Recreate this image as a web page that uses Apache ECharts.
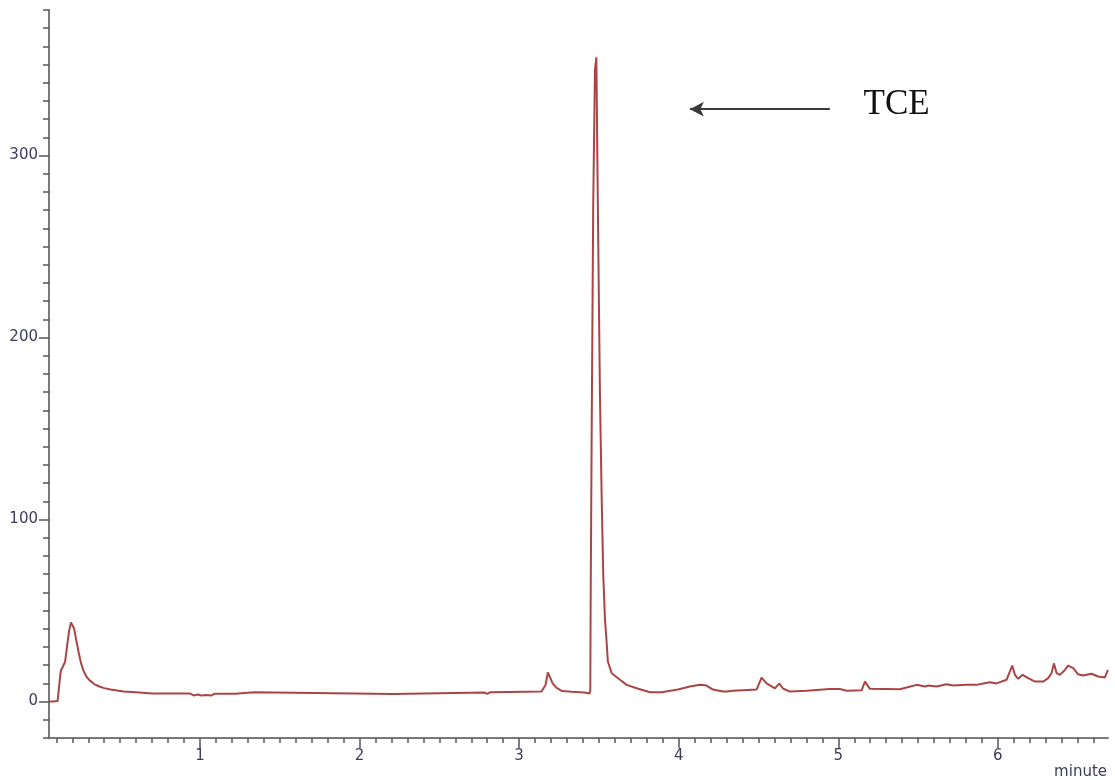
<!DOCTYPE html>
<html>
<head>
<meta charset="utf-8">
<script src="https://cdn.jsdelivr.net/npm/echarts@6/dist/echarts.min.js"></script>
<style>
html,body{margin:0;padding:0;background:#fff;}
#chart{width:1115px;height:780px;}
</style>
</head>
<body>
<div id="chart"></div>
<script>
// ---- data ----
const time = [
  0.054, 0.08, 0.108, 0.118, 0.128, 0.14, 0.155, 0.165, 0.18, 0.192, 0.202, 0.212, 0.222, 0.24, 0.255, 0.27,
  0.29, 0.31, 0.34, 0.37, 0.40, 0.44, 0.52, 0.60, 0.70, 0.80, 0.94, 0.96, 0.99, 1.01, 1.04, 1.07, 1.09,
  1.22, 1.23, 1.34, 1.35, 2.21, 2.22, 2.78, 2.80, 2.82, 3.14, 3.165, 3.18, 3.195, 3.21, 3.235, 3.27, 3.33,
  3.41, 3.44, 3.446, 3.448, 3.454, 3.464, 3.475, 3.484, 3.49, 3.496, 3.506, 3.517, 3.527, 3.538, 3.548,
  3.556, 3.58, 3.632, 3.674, 3.736, 3.82, 3.893, 3.995, 4.07, 4.133, 4.175, 4.214, 4.277, 4.30, 4.34,
  4.488, 4.519, 4.551, 4.603, 4.63, 4.653, 4.697, 4.801, 4.947, 5.01, 5.052, 5.146, 5.167, 5.198, 5.386,
  5.428, 5.491, 5.543, 5.561, 5.616, 5.678, 5.72, 5.804, 5.867, 5.908, 5.95, 5.992, 6.054, 6.09, 6.107,
  6.127, 6.155, 6.19, 6.232, 6.284, 6.315, 6.336, 6.351, 6.368, 6.388, 6.42, 6.44, 6.472, 6.503, 6.534,
  6.587, 6.628, 6.67, 6.69
];
const signal = [
  0, 0, 0.3, 9, 17, 19, 22, 29, 39, 43.5, 43, 40, 35, 27, 21, 17,
  13.5, 11.5, 9.5, 8.3, 7.4, 6.6, 5.5, 5.1, 4.5, 4.4, 4.4, 3.4, 3.9, 3.3, 3.6, 3.3, 4.3,
  4.3, 5.1, 5.1, 4.2, 4.2, 4.9, 5.0, 4.2, 5.2, 5.5, 9, 16, 13, 10, 7.5, 5.8, 5.4,
  5.0, 4.4, 6, 51, 140, 271, 347, 354, 300, 250, 171, 113, 70, 45, 33,
  22, 15.6, 12, 9.2, 7.3, 5.1, 5.1, 6.6, 8.3, 9.2, 8.8, 6.6, 5.5, 5.5, 6.0,
  6.6, 13.2, 10, 7.3, 9.9, 7.2, 5.5, 5.9, 6.9, 6.9, 6.0, 6.2, 11, 7.0, 6.8,
  7.7, 9.2, 8.3, 8.8, 8.3, 9.5, 8.8, 9.2, 9.2, 10, 10.6, 10, 12, 19.8, 14.7,
  12.5, 14.7, 12.9, 11, 11, 12.9, 15.6, 21, 15.6, 14.7, 17.4, 19.8, 18.4, 15, 14.3,
  15.3, 13.8, 13.2, 17.4
];
const xMajorTicks = [1, 2, 3, 4, 5, 6];
const xMinorTicks = [0.1,0.2,0.3,0.4,0.5,0.6,0.7,0.8,0.9,1.0,1.1,1.2,1.3,1.4,1.5,1.6,1.7,1.8,1.9,2.0,
  2.1,2.2,2.3,2.4,2.5,2.6,2.7,2.8,2.9,3.0,3.1,3.2,3.3,3.4,3.5,3.6,3.7,3.8,3.9,4.0,4.1,4.2,4.3,4.4,4.5,
  4.6,4.7,4.8,4.9,5.0,5.1,5.2,5.3,5.4,5.5,5.6,5.7,5.8,5.9,6.0,6.1,6.2,6.3,6.4,6.5,6.6];
const yMajorTicks = [0, 100, 200, 300];
const yMinorTicks = [-20,-10,0,10,20,30,40,50,60,70,80,90,100,110,120,130,140,150,160,170,180,190,200,
  210,220,230,240,250,260,270,280,290,300,310,320,330,340,350,360,370,380];
const peakLabel = 'TCE';
const arrowFrom = [4.947, 325.5];
const arrowTo = [4.07, 325.5];
const labelAt = [5.155, 328];
const xName = 'minute';

// ---- chart ----
const X_MIN = 0.054, X_MAX = 6.69, Y_MIN = -20, Y_MAX = 380;
const axisColor = '#7a7a7a';
const tickColor = '#555555';
const labelColor = '#3d3d5c';
const labelFont = {fontFamily: 'DejaVu Sans', fontSize: 15, color: labelColor};

const chart = echarts.init(document.getElementById('chart'), null, {renderer: 'canvas'});
chart.setOption({
  animation: false,
  backgroundColor: '#ffffff',
  grid: {left: 49, right: 7, top: 10, bottom: 42, outerBoundsMode: 'none'},
  xAxis: [
    {
      type: 'value', min: X_MIN, max: X_MAX,
      axisLine: {show: true, onZero: false, lineStyle: {color: axisColor, width: 2}},
      axisTick: {show: true, customValues: xMinorTicks, length: 5, lineStyle: {color: tickColor, width: 1.5}},
      axisLabel: {show: false},
      splitLine: {show: false}
    },
    {
      type: 'value', min: X_MIN, max: X_MAX, position: 'bottom',
      axisLine: {show: false, onZero: false},
      axisTick: {show: true, customValues: xMajorTicks, length: 10, lineStyle: {color: tickColor, width: 1.5}},
      axisLabel: Object.assign({show: true, customValues: xMajorTicks, margin: 11}, labelFont),
      splitLine: {show: false}
    }
  ],
  yAxis: [
    {
      type: 'value', min: Y_MIN, max: Y_MAX,
      axisLine: {show: true, onZero: false, lineStyle: {color: axisColor, width: 2}},
      axisTick: {show: true, customValues: yMinorTicks, length: 6, lineStyle: {color: tickColor, width: 1.5}},
      axisLabel: {show: false},
      splitLine: {show: false}
    },
    {
      type: 'value', min: Y_MIN, max: Y_MAX, position: 'left',
      axisLine: {show: false, onZero: false},
      axisTick: {show: true, customValues: yMajorTicks, length: 10, lineStyle: {color: tickColor, width: 1.5}},
      axisLabel: Object.assign({show: true, customValues: yMajorTicks, margin: 11}, labelFont),
      splitLine: {show: false}
    }
  ],
  series: [{
    type: 'line',
    xAxisIndex: 0, yAxisIndex: 0,
    data: time.map((t, i) => [t, signal[i]]),
    showSymbol: false,
    symbol: 'none',
    lineStyle: {color: '#ab4545', width: 2},
    silent: true,
    markLine: {
      silent: true,
      animation: false,
      symbol: ['none', 'arrow'],
      symbolSize: [11, 14],
      label: {show: false},
      lineStyle: {color: '#3a3a3a', width: 2, type: 'solid'},
      emphasis: {disabled: true},
      data: [[{coord: arrowFrom}, {coord: arrowTo}]]
    },
    markPoint: {
      silent: true,
      animation: false,
      data: [{
        coord: labelAt,
        symbol: 'circle',
        symbolSize: 1,
        itemStyle: {color: 'rgba(0,0,0,0)'},
        label: {show: true, position: 'right', distance: 0, formatter: peakLabel,
          fontFamily: 'Liberation Serif', fontSize: 35, color: '#111'}
      }]
    }
  }],
  graphic: [{
    type: 'text', right: 8, bottom: 0,
    style: {text: xName, font: '15px "DejaVu Sans"', fill: labelColor}
  }]
});
</script>
</body>
</html>
